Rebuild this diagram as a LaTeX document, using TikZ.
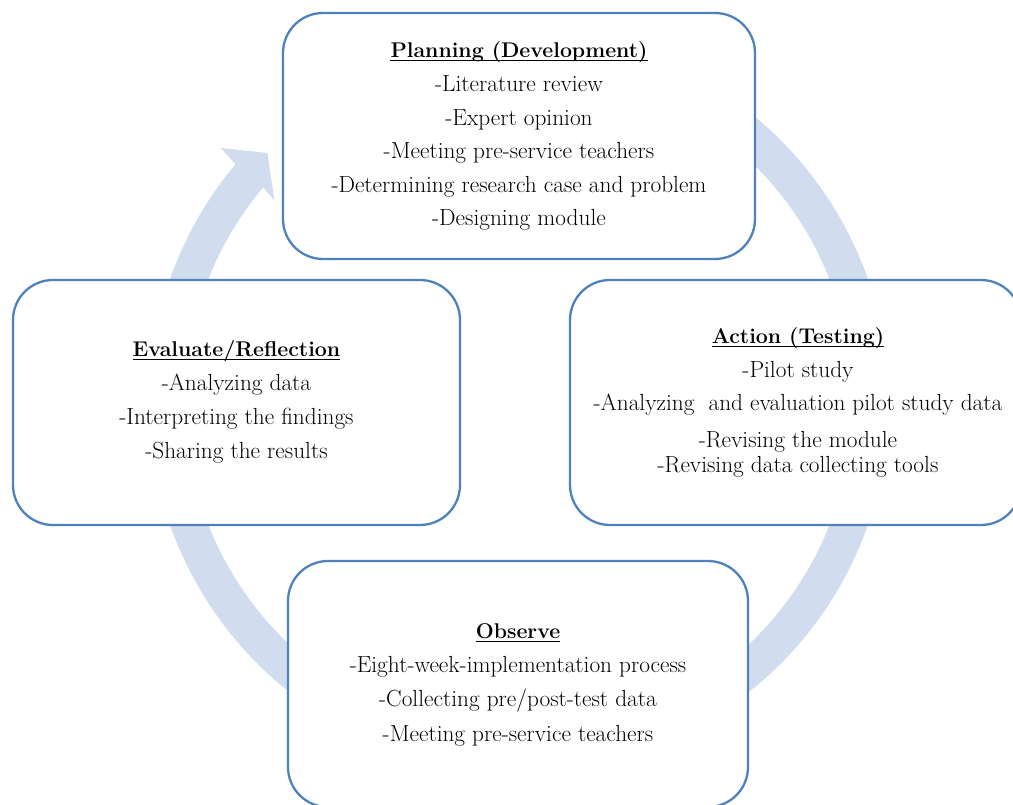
\documentclass[tikz,border=0pt]{standalone}
\usepackage{fontspec}
\setmainfont{Latin Modern Roman}
\definecolor{boxblue}{HTML}{4F81BD}
\definecolor{ringblue}{HTML}{D1DDEF}
\tikzset{
  box/.style={draw=boxblue, line width=2.3pt, fill=white, rounded corners=40pt, inner sep=0pt},
  txt/.style={anchor=base, inner sep=0pt, font=\fontsize{23.3pt}{23.3pt}\selectfont},
  ttl/.style={anchor=base, inner sep=0pt, font=\fontsize{21.3pt}{21.3pt}\selectfont\bfseries},
  uline/.style={line width=1.2pt, black}
}
\newcommand{\uline}[1]{\draw[uline] ([yshift=-2.3pt]#1.base west) -- ([yshift=-2.3pt]#1.base east);}
\begin{document}
\begin{tikzpicture}[x=1pt,y=1pt]
\clip (0,0) rectangle (1013,804);
\fill[white] (0,0) rectangle (1013,804);
\coordinate (C) at (519,402);
% circular arrow
\fill[ringblue] ([shift={(70:370)}]C) arc[start angle=70, end angle=-220, radius=370]
  -- ([shift={(139.6:392)}]C) -- ([shift={(135.3:354)}]C) -- ([shift={(140.5:317)}]C)
  -- ([shift={(140:334)}]C) arc[start angle=-220, end angle=70, radius=334] -- cycle;
% boxes
\node[box, minimum width=472pt, minimum height=246pt] (plan) at (519,668) {};
\node[box, minimum width=447pt, minimum height=245pt] (eval) at (236.5,401.5) {};
\node[box, minimum width=451pt, minimum height=245pt] (act) at (795.5,401.5) {};
\node[box, minimum width=460pt, minimum height=246pt] (obs) at (518,120) {};
% planning text
\node[ttl] (p0) at (519,746) {Planning (Development)};
\uline{p0}
\node[txt] (p1) at (519,712) {-Literature review};
\node[txt] (p2) at (519,678) {-Expert opinion};
\node[txt] (p3) at (519,645) {-Meeting pre-service teachers};
\node[txt] (p4) at (519,611) {-Determining research case and problem};
\node[txt] (p5) at (519,578) {-Designing module};
% evaluate text
\node[ttl] (e0) at (236.5,447) {Evaluate/Reflection};
\uline{e0}
\node[txt] (e1) at (236.5,413) {-Analyzing data};
\node[txt] (e2) at (236.5,379) {-Interpreting the findings};
\node[txt] (e3) at (236.5,345) {-Sharing the results};
% action text
\node[ttl] (a0) at (798,460) {Action (Testing)};
\uline{a0}
\node[txt] (a1) at (798,426) {-Pilot study};
\node[txt] (a2) at (798,393) {-Analyzing\ \ and evaluation pilot study data};
\node[txt] (a3) at (798,356) {-Revising the module};
\node[txt] (a4) at (798,331) {-Revising data collecting tools};
% observe text
\node[ttl] (o0) at (518,165) {Observe};
\uline{o0}
\node[txt] (o1) at (518,131) {-Eight-week-implementation process};
\node[txt] (o2) at (518,97) {-Collecting pre/post-test data};
\node[txt] (o3) at (518,62) {-Meeting pre-service teachers};
\end{tikzpicture}
\end{document}
